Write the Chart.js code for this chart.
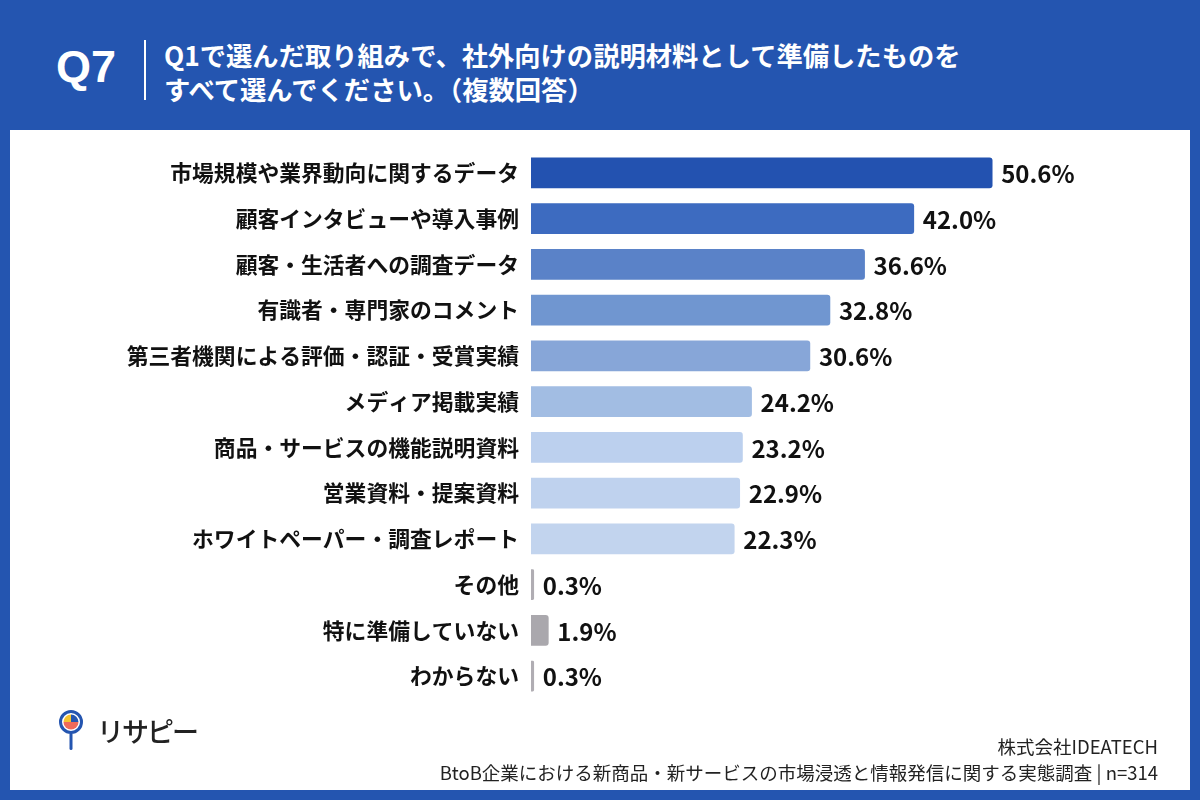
<!DOCTYPE html>
<html lang="ja">
<head>
<meta charset="utf-8">
<title>Q7</title>
<script src="https://cdn.jsdelivr.net/npm/chart.js@4.4.1/dist/chart.umd.min.js"></script>
<style>
  html, body { margin: 0; padding: 0; }
  body { width: 1200px; height: 800px; background: #2455b0; position: relative; overflow: hidden;
         font-family: "Noto Sans CJK JP", "Noto Sans", sans-serif; }
  .panel { position: absolute; left: 10px; top: 130px; width: 1180px; height: 660px; background: #fff; }
  .qno { position: absolute; left: 56px; top: 44px; color: #fff; font: 700 45px/1 "Liberation Sans", Arial, sans-serif; }
  .bar-v { position: absolute; left: 144px; top: 40px; width: 2px; height: 60px; background: #fff; }
  .title { position: absolute; left: 164px; top: 38px; color: #fff; font-weight: 700; font-size: 26.3px; line-height: 34px; }
  .logo { position: absolute; left: 58px; top: 709px; display: flex; align-items: center; }
  .logo span { font-size: 27px; font-weight: 500; color: #222; margin-left: 13px; letter-spacing: -2px; }
  .foot { position: absolute; right: 42px; top: 733px; text-align: right; color: #222; font-size: 18.5px; line-height: 26px; }
  canvas { position: absolute; left: 0; top: 0; }
</style>
</head>
<body>
<div class="panel"></div>
<div class="qno">Q7</div>
<div class="bar-v"></div>
<div class="title">Q1で選んだ取り組みで、社外向けの説明材料として準備したものを<br>すべて選んでください。（複数回答）</div>
<canvas id="chart" width="1200" height="800"></canvas>
<div class="logo">
  <svg width="26" height="42" viewBox="0 0 26 42">
    <circle cx="13" cy="13" r="10.5" fill="#fff" stroke="#2455b0" stroke-width="3"/>
    <path d="M13 13 L13 5.5 A7.5 7.5 0 0 1 20.5 13 Z" fill="#2455b0"/>
    <path d="M13 13 L20.5 13 A7.5 7.5 0 0 1 5.5 13 Z" fill="#ef6a5a"/>
    <path d="M13 13 L5.5 13 A7.5 7.5 0 0 1 13 5.5 Z" fill="#f5c330"/>
    <rect x="11.5" y="24" width="3" height="17" rx="1.5" fill="#2455b0"/>
  </svg>
  <span>リサピー</span>
</div>
<div class="foot">株式会社IDEATECH<br>BtoB企業における新商品・新サービスの市場浸透と情報発信に関する実態調査 | n=314</div>
<script>
// answer options, top to bottom
const categories = [
  '市場規模や業界動向に関するデータ',
  '顧客インタビューや導入事例',
  '顧客・生活者への調査データ',
  '有識者・専門家のコメント',
  '第三者機関による評価・認証・受賞実績',
  'メディア掲載実績',
  '商品・サービスの機能説明資料',
  '営業資料・提案資料',
  'ホワイトペーパー・調査レポート',
  'その他',
  '特に準備していない',
  'わからない'
];
// share of respondents (%)
const values = [50.6, 42.0, 36.6, 32.8, 30.6, 24.2, 23.2, 22.9, 22.3, 0.3, 1.9, 0.3];

const barColors = ['#2352b0', '#3d6bc0', '#5a82c8', '#7096d0', '#87a6d8', '#a2bde3',
                   '#bcd0ee', '#bfd2ee', '#c2d4ee', '#b0adb3', '#aaa8ad', '#b0adb3'];

const FONT = '"Noto Sans CJK JP", "Noto Sans", sans-serif';

// value labels at bar ends
const valueLabels = {
  id: 'valueLabels',
  afterDatasetsDraw(chart){
    const ctx = chart.ctx;
    const meta = chart.getDatasetMeta(0);
    ctx.save();
    ctx.font = '700 24px ' + FONT;
    ctx.fillStyle = '#111';
    ctx.textAlign = 'left';
    ctx.textBaseline = 'middle';
    meta.data.forEach((bar, i)=>{
      ctx.fillText(values[i].toFixed(1) + '%', bar.x + 9, bar.y + 1);
    });
    ctx.restore();
  }
};

new Chart(document.getElementById('chart'), {
  type: 'bar',
  data: {
    labels: categories,
    datasets: [{ data: values, backgroundColor: barColors, borderRadius: 3, borderSkipped: 'start',
                 barThickness: 30 }]
  },
  options: {
    indexAxis: 'y',
    responsive: false,
    animation: false,
    layout: { padding: { top: 150, bottom: 101, left: 0, right: 31 } },
    plugins: { legend: { display: false }, tooltip: { enabled: false } },
    scales: {
      x: { display: false, min: 0, max: 70 },
      y: {
        grid: { display: false, drawTicks: false },
        border: { display: false },
        afterFit(scale){ scale.width = 531; },
        ticks: { color: '#111', padding: 12, font: { family: FONT, size: 21.8, weight: '700' } }
      }
    }
  },
  plugins: [valueLabels]
});
</script>
</body>
</html>
